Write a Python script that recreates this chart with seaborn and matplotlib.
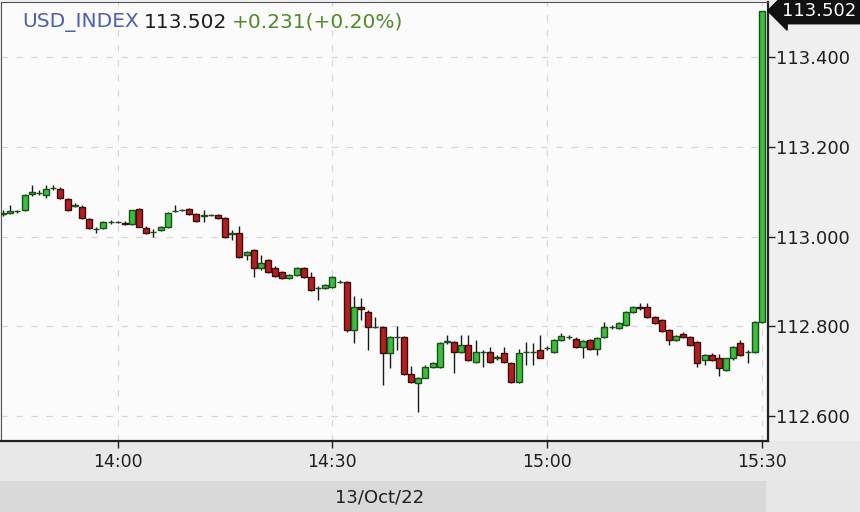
import matplotlib
matplotlib.use("Agg")
import matplotlib.pyplot as plt
import matplotlib.transforms as mtransforms
from matplotlib.patches import Rectangle
import numpy as np
import pandas as pd
import seaborn as sns

# ---------------- data ----------------
start_time = "2022-10-13 13:44"
end_time = "2022-10-13 15:30"

opens = [
    113.050, 113.052, 113.056, 113.059, 113.095, 113.097, 113.092, 113.108, 113.106, 113.084,
    113.068, 113.066, 113.039, 113.017, 113.019, 113.032, 113.032, 113.030, 113.028, 113.062,
    113.020, 113.010, 113.014, 113.021, 113.056, 113.059, 113.061, 113.050, 113.046, 113.048,
    113.048, 113.041, 113.006, 113.008, 112.959, 112.970, 112.930, 112.948, 112.930, 112.921,
    112.908, 112.914, 112.930, 112.910, 112.885, 112.885, 112.887, 112.899, 112.899, 112.792,
    112.843, 112.832, 112.798, 112.798, 112.740, 112.776, 112.776, 112.694, 112.674, 112.685,
    112.709, 112.709, 112.765, 112.765, 112.743, 112.758, 112.720, 112.743, 112.743, 112.731,
    112.740, 112.718, 112.676, 112.743, 112.743, 112.747, 112.752, 112.743, 112.769, 112.776,
    112.772, 112.754, 112.769, 112.749, 112.776, 112.798, 112.796, 112.803, 112.832, 112.843,
    112.843, 112.821, 112.814, 112.792, 112.769, 112.783, 112.776, 112.765, 112.725, 112.736,
    112.731, 112.703, 112.731, 112.763, 112.743, 112.743, 112.809,
]
highs = [
    113.059, 113.070, 113.059, 113.095, 113.115, 113.104, 113.115, 113.115, 113.110, 113.086,
    113.075, 113.070, 113.041, 113.021, 113.035, 113.037, 113.035, 113.035, 113.059, 113.064,
    113.023, 113.017, 113.023, 113.055, 113.070, 113.061, 113.064, 113.052, 113.059, 113.050,
    113.050, 113.043, 113.014, 113.023, 112.968, 112.972, 112.959, 112.950, 112.934, 112.923,
    112.916, 112.932, 112.932, 112.921, 112.890, 112.894, 112.912, 112.903, 112.901, 112.867,
    112.863, 112.836, 112.821, 112.801, 112.778, 112.801, 112.778, 112.712, 112.687, 112.714,
    112.720, 112.765, 112.781, 112.767, 112.781, 112.781, 112.769, 112.747, 112.754, 112.736,
    112.754, 112.720, 112.749, 112.765, 112.763, 112.781, 112.756, 112.772, 112.785, 112.781,
    112.776, 112.769, 112.772, 112.776, 112.809, 112.803, 112.809, 112.834, 112.845, 112.852,
    112.852, 112.823, 112.816, 112.794, 112.781, 112.787, 112.778, 112.767, 112.738, 112.740,
    112.738, 112.731, 112.756, 112.769, 112.747, 112.812, 113.502,
]
lows = [
    113.046, 113.050, 113.052, 113.057, 113.090, 113.092, 113.086, 113.104, 113.084, 113.057,
    113.066, 113.039, 113.017, 113.008, 113.017, 113.028, 113.030, 113.026, 113.026, 113.021,
    113.006, 112.999, 113.012, 113.019, 113.055, 113.057, 113.048, 113.032, 113.032, 113.046,
    113.039, 112.997, 112.992, 112.952, 112.948, 112.910, 112.925, 112.919, 112.910, 112.905,
    112.905, 112.912, 112.908, 112.879, 112.858, 112.883, 112.885, 112.896, 112.787, 112.763,
    112.814, 112.747, 112.796, 112.669, 112.707, 112.747, 112.692, 112.674, 112.609, 112.690,
    112.707, 112.707, 112.762, 112.696, 112.740, 112.723, 112.718, 112.709, 112.718, 112.725,
    112.718, 112.674, 112.674, 112.714, 112.714, 112.729, 112.747, 112.740, 112.767, 112.772,
    112.752, 112.729, 112.747, 112.736, 112.774, 112.794, 112.794, 112.801, 112.830, 112.836,
    112.819, 112.805, 112.787, 112.758, 112.767, 112.774, 112.756, 112.709, 112.714, 112.723,
    112.691, 112.700, 112.725, 112.734, 112.718, 112.740, 112.807,
]
closes = [
    113.052, 113.057, 113.056, 113.092, 113.098, 113.097, 113.106, 113.108, 113.086, 113.059,
    113.071, 113.041, 113.019, 113.017, 113.032, 113.032, 113.032, 113.028, 113.058, 113.022,
    113.008, 113.010, 113.021, 113.052, 113.056, 113.059, 113.050, 113.035, 113.046, 113.048,
    113.041, 112.999, 113.006, 112.954, 112.965, 112.930, 112.941, 112.921, 112.912, 112.908,
    112.914, 112.930, 112.910, 112.881, 112.885, 112.892, 112.910, 112.899, 112.792, 112.843,
    112.838, 112.798, 112.798, 112.740, 112.776, 112.776, 112.694, 112.676, 112.685, 112.709,
    112.718, 112.763, 112.767, 112.743, 112.758, 112.725, 112.743, 112.743, 112.720, 112.731,
    112.720, 112.676, 112.740, 112.743, 112.743, 112.731, 112.752, 112.769, 112.778, 112.776,
    112.754, 112.767, 112.749, 112.774, 112.798, 112.798, 112.807, 112.832, 112.843, 112.841,
    112.821, 112.807, 112.789, 112.769, 112.778, 112.776, 112.758, 112.718, 112.736, 112.725,
    112.707, 112.729, 112.754, 112.736, 112.743, 112.809, 113.502,
]

y_ticks = [112.6, 112.8, 113.0, 113.2, 113.4]
y_tick_labels = ["112.600", "112.800", "113.000", "113.200", "113.400"]
x_tick_times = ["14:00", "14:30", "15:00", "15:30"]
date_label = "13/Oct/22"
symbol = "USD_INDEX"
last_price = "113.502"
change_text = "+0.231(+0.20%)"

# ---------------- build frame ----------------
times = pd.date_range(start_time, end_time, freq="min")
ref = pd.Timestamp("2022-10-13 14:00")
df = pd.DataFrame({
    "time": times, "open": opens, "high": highs, "low": lows, "close": closes,
})
df["minute"] = (df["time"] - ref).dt.total_seconds() / 60.0
df["up"] = df["close"] >= df["open"]
x_ticks = [(pd.Timestamp("2022-10-13 " + t) - ref).total_seconds() / 60.0 for t in x_tick_times]

sns.set_theme(style="white")
plt.rcParams["font.family"] = ["DejaVu Sans"]

W, H = 860, 512
fig = plt.figure(figsize=(W / 100, H / 100), dpi=100, facecolor="#efefef")

def fx(px):
    return px / W

def fy(py):
    return 1 - py / H

# background bands
fig.add_artist(Rectangle((0, fy(481)), 1, fy(441) - fy(481), transform=fig.transFigure,
                         facecolor="#e8e8e8", edgecolor="none", zorder=0))
fig.add_artist(Rectangle((0, 0), fx(766), fy(481), transform=fig.transFigure,
                         facecolor="#d9d9d9", edgecolor="none", zorder=0))
fig.add_artist(Rectangle((fx(766), 0), 1 - fx(766), fy(481), transform=fig.transFigure,
                         facecolor="#e6e6e6", edgecolor="none", zorder=0))

ax = fig.add_axes([fx(1), fy(440.5), fx(768) - fx(1), fy(1.5) - fy(440.5)])
ax.set_facecolor("#fbfbfb")
ax.set_xlim(-16.3, 90.85)
ax.set_ylim(112.5465, 113.5226)

# grid
for xv in x_ticks:
    ax.axvline(xv, color="#d6d6d6", lw=0.9, ls=(0, (5, 7)), zorder=0)
for yv in y_ticks:
    ax.axhline(yv, color="#d6d6d6", lw=0.9, ls=(0, (5, 7)), zorder=0)

# wicks
ax.vlines(df["minute"], df["low"], df["high"], color="#1a1a1a", lw=1.0, zorder=2)

# bodies
green_face, green_edge = "#3dbd3d", "#1a4f1a"
red_face, red_edge = "#b41e1e", "#3a0c0c"
body_bottom = np.minimum(df["open"], df["close"])
body_height = np.maximum(np.abs(df["close"] - df["open"]), 0.0008)
faces = np.where(df["up"], green_face, red_face)
edges = np.where(df["up"], green_edge, red_edge)
ax.bar(df["minute"], body_height, bottom=body_bottom, width=0.84,
       color=faces, edgecolor=edges, linewidth=1.0, zorder=3)

# spines
for side in ["left", "top"]:
    ax.spines[side].set_color("#555555")
    ax.spines[side].set_linewidth(0.8)
for side in ["right", "bottom"]:
    ax.spines[side].set_color("#222222")
    ax.spines[side].set_linewidth(1.6)

# ticks
ax.yaxis.tick_right()
ax.set_yticks(y_ticks)
ax.set_yticklabels(y_tick_labels)
ax.set_xticks(x_ticks)
ax.set_xticklabels(x_tick_times)
ax.tick_params(axis="y", which="both", direction="out", length=5, width=1, color="#222222",
               labelsize=13, labelcolor="#1e1e1e", pad=1, right=True, left=False)
ax.tick_params(axis="x", which="both", direction="out", length=5, width=1, color="#222222",
               labelsize=12.5, labelcolor="#1e1e1e", pad=4, bottom=True)
ax.set_xlabel("")
ax.set_ylabel("")

# date label
fig.text(fx(380), fy(497), date_label, ha="center", va="center", fontsize=13, color="#1e1e1e")

# title pieces
t1 = fig.text(fx(22), fy(27), symbol, ha="left", va="baseline", fontsize=14.5, color="#4a62b0")
t2 = ax.annotate(last_price, xy=(1, 0), xycoords=t1, xytext=(4, 0), textcoords="offset points",
                 ha="left", va="bottom", fontsize=14.5, color="#1e1e1e", annotation_clip=False)
t3 = ax.annotate(change_text, xy=(1, 0), xycoords=t2, xytext=(3, 0), textcoords="offset points",
                 ha="left", va="bottom", fontsize=14.5, color="#4d8c2a", annotation_clip=False)

# last price marker
trans = mtransforms.blended_transform_factory(ax.transAxes, ax.transData)
ax.text(1.018, df["close"].iloc[-1], last_price, transform=trans, ha="left", va="center",
        fontsize=13, color="white", clip_on=False, zorder=10,
        bbox=dict(boxstyle="larrow,pad=0.22", facecolor="#111111", edgecolor="#111111"))

fig.savefig("out.png", dpi=100, facecolor=fig.get_facecolor())
